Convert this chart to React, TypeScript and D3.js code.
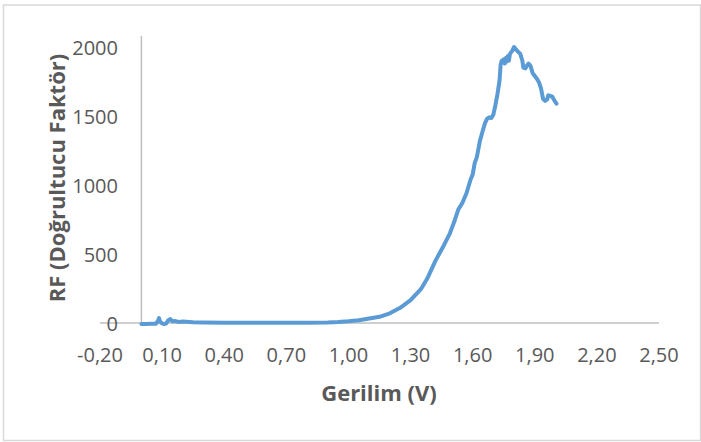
import React from "react";
import * as d3 from "d3";

const voltage = [
  0.0, 0.02, 0.05, 0.07, 0.08, 0.085, 0.09, 0.1, 0.11, 0.12, 0.13, 0.14, 0.15, 0.16, 0.18, 0.2,
  0.25, 0.3, 0.4, 0.5, 0.6, 0.7, 0.8, 0.9, 0.95, 1.0, 1.05, 1.1, 1.15, 1.2, 1.25, 1.3, 1.35,
  1.38, 1.4, 1.42, 1.44, 1.46, 1.49, 1.51, 1.53, 1.55, 1.57, 1.59, 1.6, 1.61, 1.62, 1.635, 1.65,
  1.66, 1.67, 1.68, 1.69, 1.7, 1.71, 1.72, 1.73, 1.735, 1.74, 1.75, 1.755, 1.76, 1.765, 1.77,
  1.775, 1.78, 1.79, 1.8, 1.81, 1.82, 1.83, 1.84, 1.845, 1.855, 1.86, 1.87, 1.88, 1.89, 1.9,
  1.91, 1.92, 1.93, 1.94, 1.95, 1.96, 1.965, 1.975, 1.985, 1.99, 2.0, 2.005,
];
const rf = [
  -8, -8, -6, -5, 15, 35, 10, -3, -8, -2, 20, 28, 12, 15, 8, 10,
  6, 4, 2, 1, 1, 1, 2, 4, 7, 12, 20, 32, 45, 70, 110, 165, 245,
  320, 385, 450, 505, 560, 650, 730, 820, 870, 940, 1040, 1075, 1160, 1200, 1320, 1400,
  1450, 1480, 1490, 1485, 1510, 1580, 1660, 1760, 1870, 1900, 1910, 1880, 1920, 1895, 1935,
  1900, 1950, 1970, 2000, 1980, 1965, 1950, 1900, 1850, 1845, 1860, 1880, 1860, 1810, 1790,
  1770, 1745, 1700, 1625, 1610, 1620, 1650, 1645, 1640, 1625, 1600, 1590,
];
const xTicks = [-0.2, 0.1, 0.4, 0.7, 1.0, 1.3, 1.6, 1.9, 2.2, 2.5];
const yTicks = [0, 500, 1000, 1500, 2000];
const xTitle = "Gerilim (V)";
const yTitle = "RF (Doğrultucu Faktör)";

const W = 701;
const H = 442;
const FONT = "'Open Sans', 'Noto Sans', sans-serif";

export default function App() {
  const x = d3.scaleLinear().domain([-0.2, 2.5]).range([100, 659]);
  const y = d3.scaleLinear().domain([0, 2000]).range([323, 47]);
  const pts = voltage.map((v, i) => [v, rf[i]] as [number, number]);
  const line = d3
    .line<[number, number]>()
    .x((d) => x(d[0]))
    .y((d) => y(d[1]))
    .curve(d3.curveLinear);
  const fmt = (v: number) => v.toFixed(2).replace(".", ",");

  return (
    <div style={{ position: "absolute", left: 0, top: 0 }}>
      <svg width={W} height={H} style={{ display: "block" }}>
        <rect x={0} y={0} width={W} height={H} fill="#ffffff" />
        <rect x={3.5} y={5} width={697} height={435.5} fill="none" stroke="#d9d9d9" strokeWidth={1.5} />
        {/* axes */}
        <line x1={x(0)} x2={x(0)} y1={y(0)} y2={y(2080)} stroke="#bfbfbf" strokeWidth={1.5} />
        <line x1={x(-0.2)} x2={x(2.5)} y1={y(0)} y2={y(0)} stroke="#bfbfbf" strokeWidth={1.5} />
        {/* y tick labels */}
        {yTicks.map((t) => (
          <text
            key={"y" + t}
            x={118}
            y={y(t) + 7.5}
            textAnchor="end"
            fontFamily={FONT}
            fontSize={20}
            fill="#595959"
          >
            {t}
          </text>
        ))}
        {/* x tick labels */}
        {xTicks.map((t) => (
          <text
            key={"x" + t}
            x={x(t)}
            y={362}
            textAnchor="middle"
            fontFamily={FONT}
            fontSize={20}
            fill="#595959"
          >
            {fmt(t)}
          </text>
        ))}
        <path
          d={line(pts) || ""}
          fill="none"
          stroke="#5b9bd5"
          strokeWidth={4}
          strokeLinejoin="round"
          strokeLinecap="round"
        />
        <text
          x={379}
          y={401}
          textAnchor="middle"
          fontFamily={FONT}
          fontSize={22}
          fontWeight="bold"
          fill="#595959"
        >
          {xTitle}
        </text>
        <text
          transform={`translate(65,178) rotate(-90)`}
          textAnchor="middle"
          fontFamily={FONT}
          fontSize={22}
          fontWeight="bold"
          fill="#595959"
        >
          {yTitle}
        </text>
      </svg>
    </div>
  );
}
